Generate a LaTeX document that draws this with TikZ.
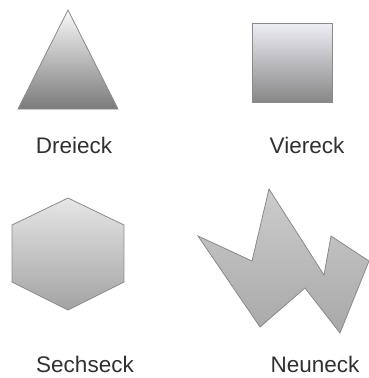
\documentclass[tikz,border=0pt]{standalone}
\usepackage{fontspec}
\setmainfont{Liberation Sans}
\definecolor{edge}{HTML}{8A8A8A}
\definecolor{txt}{HTML}{303030}
\tikzset{
  polyform/.style={draw=edge, line width=0.8pt, line join=miter},
  lbl/.style={anchor=base, text=txt, font=\fontsize{22.5}{27}\selectfont, inner sep=0pt}
}
\begin{document}
\begin{tikzpicture}[x=1pt,y=-1pt]
\useasboundingbox (0,0) rectangle (369,378);
% Dreieck
\path[polyform, top color=white!95!gray, bottom color=black!52] (68,10) -- (118,109) -- (18,109) -- cycle;
\node[lbl] (dreieck) at (74,153.3) {Dreieck};
% Viereck
\path[polyform, top color=blue!3!white!92!gray, bottom color=black!47] (252,23) rectangle (332,102);
\node[lbl] (viereck) at (307,153.3) {Viereck};
% Sechseck
\path[polyform, top color=black!10, bottom color=black!36] (68,198) -- (124,225) -- (124,282) -- (68,310) -- (12,282) -- (12,225) -- cycle;
\node[lbl] (sechseck) at (85,372.5) {Sechseck};
% Neuneck
\path[polyform, top color=black!20, bottom color=black!34]
  (198,236) -- (252,261) -- (269,189) -- (324,275) -- (331,236) -- (369,261)
  -- (340,333) -- (305,288) -- (260,327) -- cycle;
\node[lbl] (neuneck) at (315,372.5) {Neuneck};
\end{tikzpicture}
\end{document}
